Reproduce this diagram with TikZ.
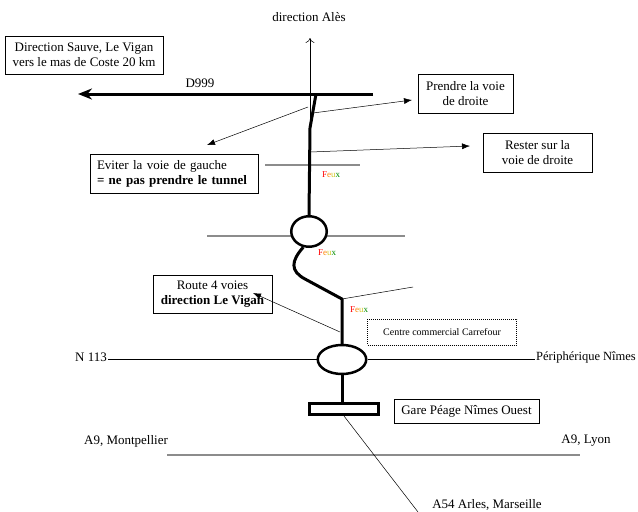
\documentclass[tikz,border=0pt]{standalone}
\usepackage{fontspec}
\setmainfont{Liberation Serif}
\usetikzlibrary{shapes.geometric,arrows.meta}
\newcommand{\feux}{\textcolor{red}{F}\textcolor{orange}{e}\textcolor{yellow!80!black}{u}\textcolor{green!55!black}{x}}

\begin{document}
\begin{tikzpicture}[x=1pt,y=-1pt,font=\fontsize{13}{15}\selectfont]
                \tikzstyle{box}=[draw=black,line width=0.8pt,align=center,inner sep=0pt]
                \tikzstyle{road}=[line width=3pt,line join=round]
                \tikzstyle{giratoire}=[ellipse,draw=black,line width=2.5pt,fill=white,inner sep=0pt]
                \tikzstyle{voie}=[draw=black!45,line width=1.2pt]
                \tikzstyle{fleche}=[-{Latex[length=8pt,width=6pt]},line width=0.5pt]
                \tikzstyle{feu}=[font=\fontsize{9}{10}\selectfont,inner sep=0pt]
                \useasboundingbox (0,0) rectangle (638,512);

                % points de la route
                \foreach \name/\x/\y in {r1/316/94, r2/310/128, c1/305/279, c2/342/299, nord/310/38,
                        d-est/373/94, d-ouest/78/94, s1/313/113, t1/412/100, s2/310/152, t2/470/146,
                        s3/308/107, t3/207/145, s4/340/332, t4/253/293, t5/413/287, sud/418/512,
                        g1/207/236, g2/405/236, g3/265/165, g4/360/165, g5/167/455, g6/580/455}
                        \coordinate (\name) at (\x,\y);

                \draw[voie] (g1) -- (g2);
                \draw[voie] (g3) -- (g4);
                \draw[voie,line width=2pt] (g5) -- (g6);

                \node (ales) at (309,17) {direction Alès};
                \node (d999) at (200,83) {D999};
                \node[box,minimum width=158pt,minimum height=38pt] (sauve) at (84,55) {Direction Sauve, Le Vigan\\vers le mas de Coste 20 km};
                \node[box,minimum width=95pt,minimum height=39pt] (prendre) at (465.5,93.5) {Prendre la voie\\de droite};
                \node[box,minimum width=109pt,minimum height=39pt] (rester) at (537.5,152.5) {Rester sur la\\voie de droite};
                \node[box,minimum width=168pt,minimum height=39pt,align=left,text width=154pt] (eviter) at (174,173.5) {Eviter la voie de gauche\\ \textbf{= ne pas prendre le tunnel}};
                \node[box,minimum width=119pt,minimum height=38pt] (route) at (212.5,294) {Route 4 voies\\\textbf{direction Le Vigan}};
                \node[box,dash pattern=on 1pt off 1pt,line width=0.6pt,minimum width=149pt,minimum height=26pt,font=\fontsize{10}{12}\selectfont] (centre) at (442,332) {Centre commercial Carrefour};
                \node[box,minimum width=145pt,minimum height=24pt] (gare) at (466.5,411) {Gare Péage Nîmes Ouest};
                \node[anchor=east,inner sep=1pt] (n113) at (108,357) {N 113};
                \node[anchor=east,inner sep=1pt,font=\fontsize{12.5}{15}\selectfont] (peri) at (637,357) {Périphérique Nîmes};
                \node (montp) at (126,441) {A9, Montpellier};
                \node (lyon) at (586,441) {A9, Lyon};
                \node (a54) at (487,505) {A54 Arles, Marseille};

                \node[giratoire,minimum width=35.5pt,minimum height=30.5pt] (e1) at (309,231.5) {};
                \node[giratoire,minimum width=48.5pt,minimum height=29pt] (e2) at (342,359.5) {};
                \node[draw,line width=3pt,minimum width=69pt,minimum height=11pt,inner sep=0pt] (peage) at (344,409) {};

                \foreach \num/\x/\y in {1/331/175, 2/327/253, 3/359/310}
                        \node[feu] (feux-\num) at (\x,\y) {\feux};

                \draw[-{To[length=5pt,width=9pt]},line width=0.5pt] (r2) -- (nord);
                \draw[road,-{Stealth[length=14pt,width=11pt]}] (d-est) -- (d-ouest);
                \draw[road] (r1) -- (r2) -- (e1.north);
                \draw[road] (e1.250) .. controls (291,261) and (290,271) .. (c1) -- (c2) -- (e2.north);
                \draw[road] (e2.south) -- (e2.south |- peage.north);

                \foreach \from/\to in {s1/t1, s2/t2, s3/t3, s4/t4}
                        \draw[fleche] (\from) -- (\to);
                \draw[line width=0.5pt] (c2) -- (t5);
                \draw[line width=0.5pt] (peage.south) -- (sud);
                \draw[line width=0.6pt] (n113.east |- e2.west) -- (e2.west);
                \draw[line width=0.6pt] (e2.east) -- (peri.west |- e2.east);
\end{tikzpicture}
\end{document}
